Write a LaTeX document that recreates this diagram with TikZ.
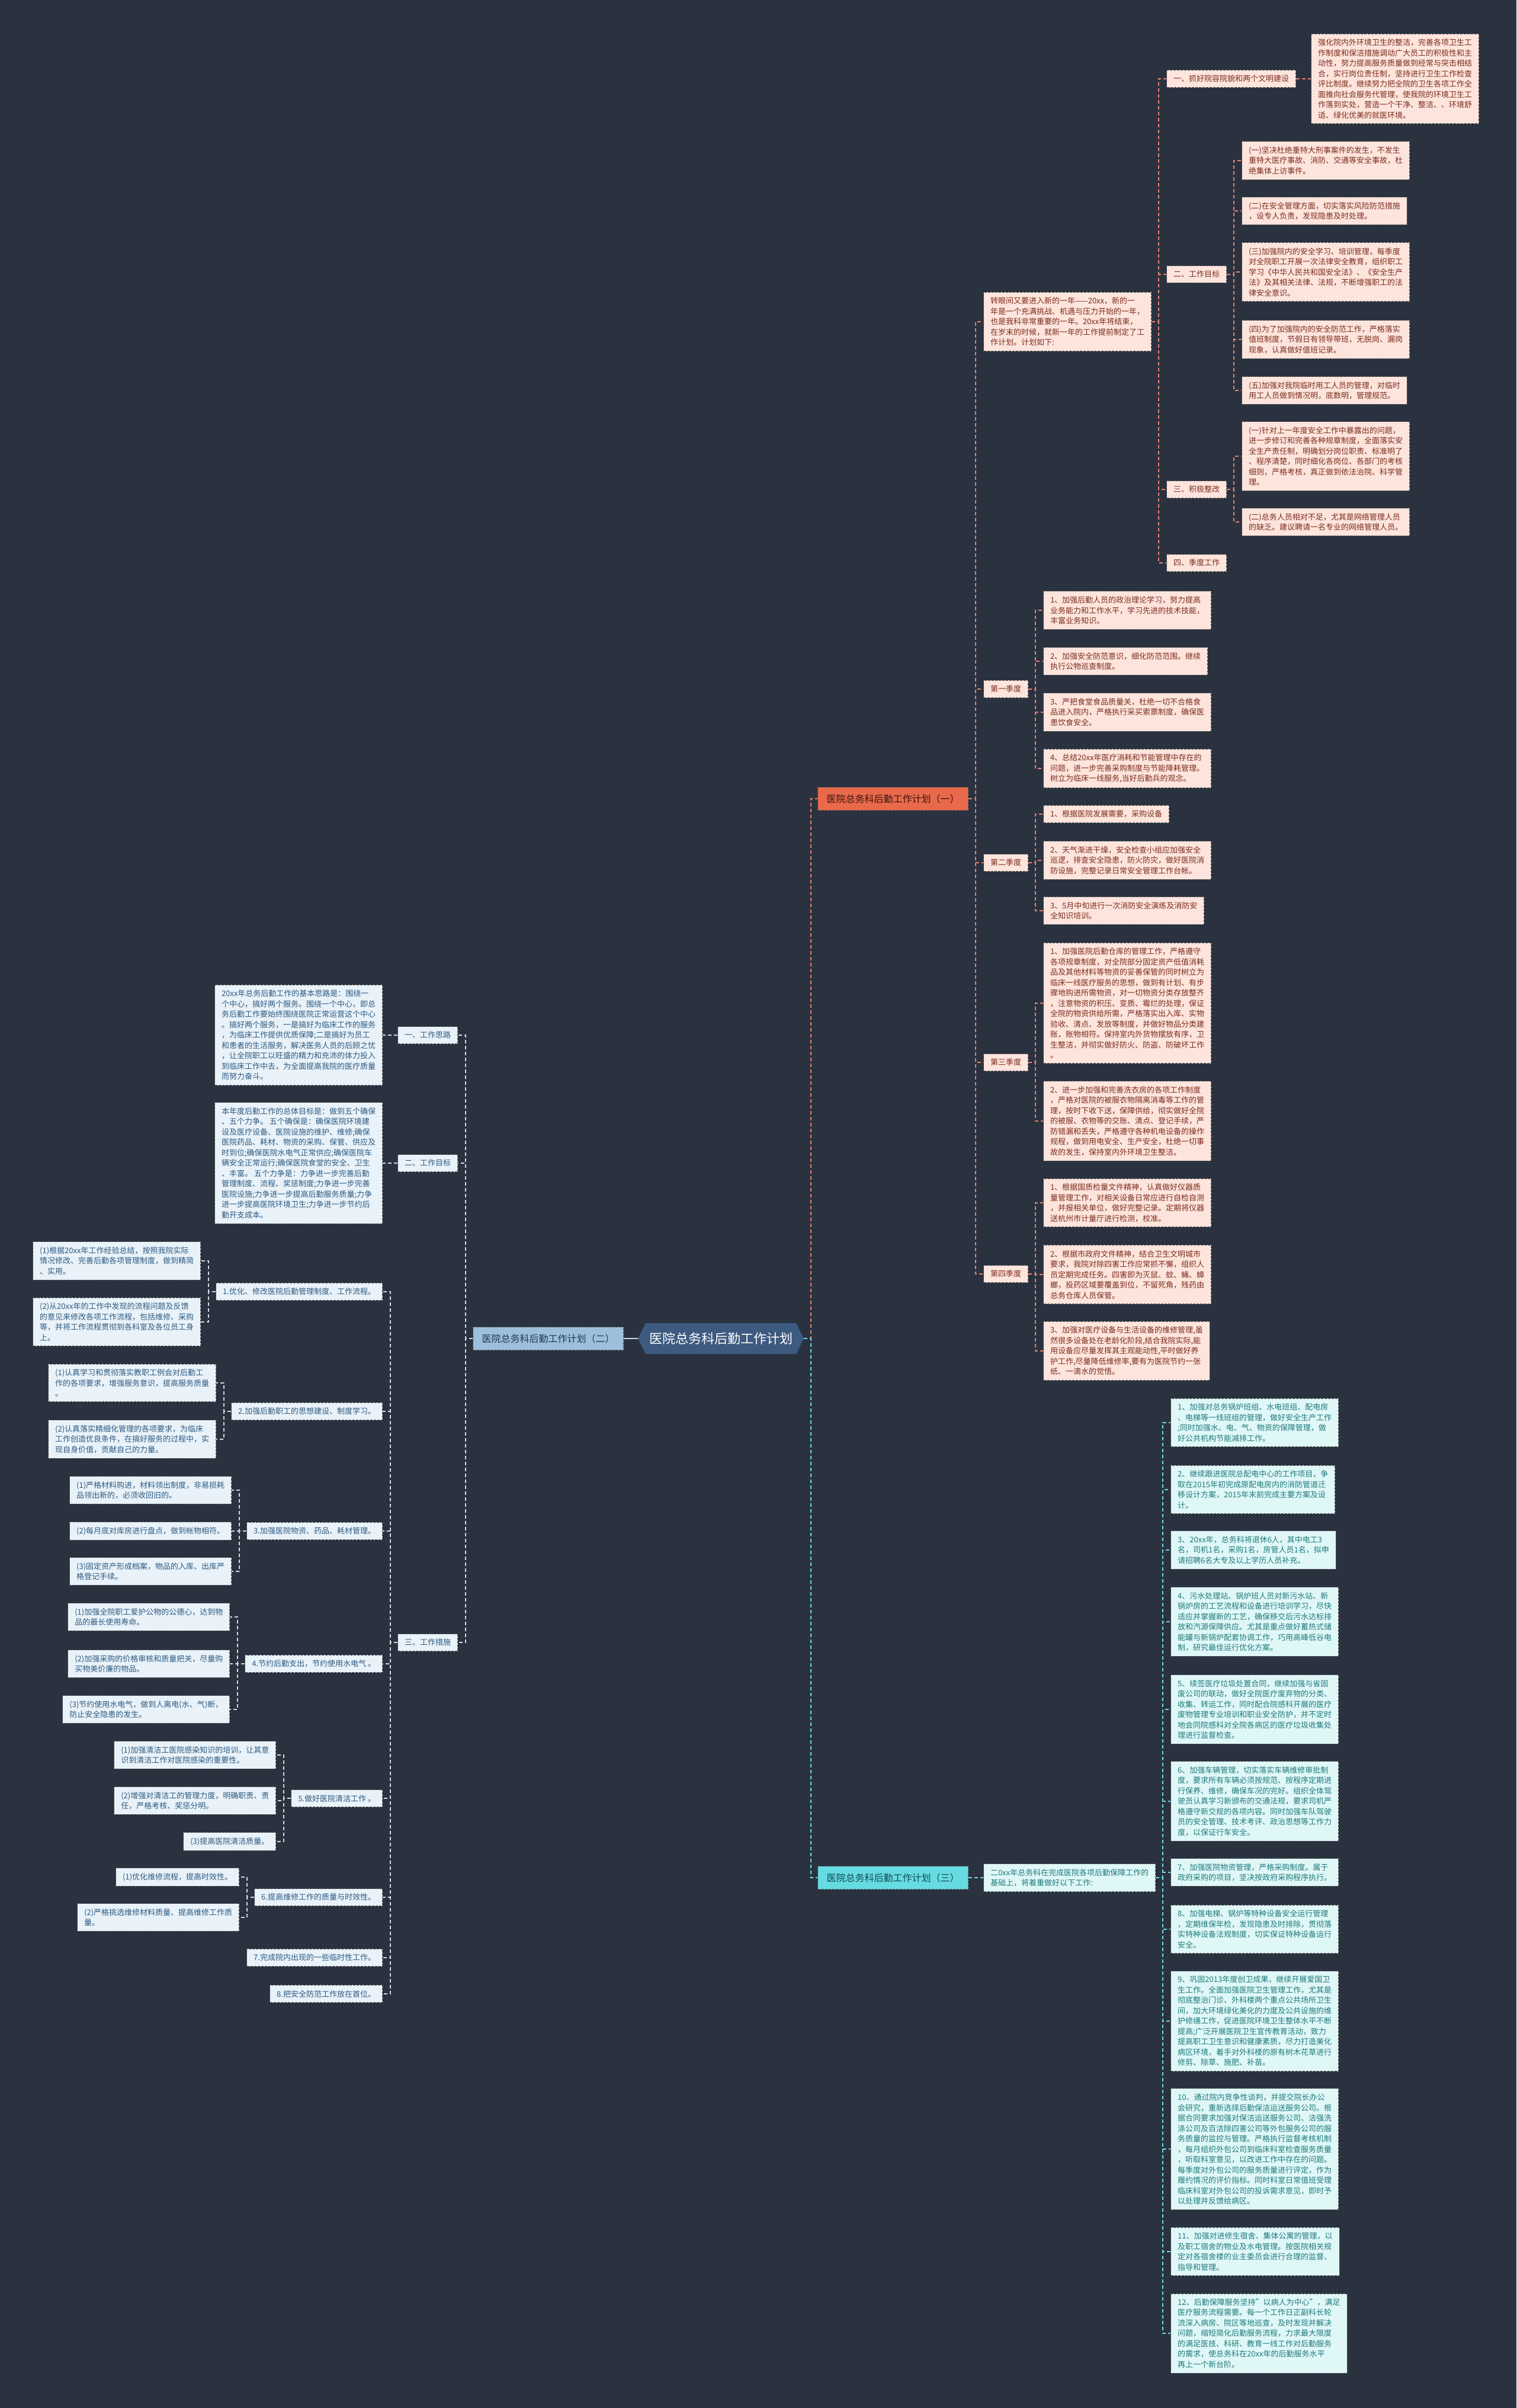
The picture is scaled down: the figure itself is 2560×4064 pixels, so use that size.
\documentclass[tikz,border=0pt]{standalone}
\usepackage{fontspec}
\setmainfont{Noto Sans CJK SC}
\definecolor{bgc}{HTML}{2A3240}
\definecolor{rootf}{HTML}{3D5A80}
\definecolor{bAf}{HTML}{E9694B}
\definecolor{bAt}{HTML}{3A140C}
\definecolor{dAf}{HTML}{FDE4DC}
\definecolor{dAt}{HTML}{7B2D1E}
\definecolor{cA}{HTML}{E8826A}
\definecolor{bBf}{HTML}{9DBFDC}
\definecolor{bBt}{HTML}{1F3550}
\definecolor{dBf}{HTML}{E9F2F9}
\definecolor{dBt}{HTML}{2D5A80}
\definecolor{cB}{HTML}{D0D8E2}
\definecolor{bCf}{HTML}{66DBE2}
\definecolor{bCt}{HTML}{0F4A50}
\definecolor{dCf}{HTML}{E0F7F8}
\definecolor{dCt}{HTML}{1F7A7A}
\definecolor{cC}{HTML}{70D8DE}
\definecolor{bordc}{HTML}{555555}
\newcommand\rkid[6]{\path (#4.east) ++(25,0) coordinate (tmpk);
  \node[#1,anchor=west] (#3) at (tmpk |- 0,#5) {#6};
  \draw[#2] (#4.east) -- ++(12,0) |- (#3.west);}
\newcommand\lkid[6]{\path (#4.west) ++(-25,0) coordinate (tmpk);
  \node[#1,anchor=east] (#3) at (tmpk |- 0,#5) {#6};
  \draw[#2] (#4.west) -- ++(-12,0) |- (#3.east);}
\begin{document}
\begin{tikzpicture}[x=1pt,y=-1pt,
  boxbase/.style={draw=bordc,dashed,dash pattern=on 4pt off 2pt,line width=1pt,align=left,inner xsep=11.5pt,inner ysep=8.5pt,font=\fontsize{13pt}{17.5pt}\selectfont},
  dA/.style={boxbase,fill=dAf,text=dAt},
  dB/.style={boxbase,fill=dBf,text=dBt},
  dC/.style={boxbase,fill=dCf,text=dCt},
  brbox/.style={draw=bordc,dashed,dash pattern=on 4pt off 2pt,line width=1pt,inner xsep=15pt,minimum height=39pt,font=\fontsize{16pt}{20pt}\selectfont},
  cAs/.style={draw=cA,line width=1.6pt,dash pattern=on 6pt off 4pt},
  cBs/.style={draw=cB,line width=1.6pt,dash pattern=on 6pt off 4pt},
  cCs/.style={draw=cC,line width=1.6pt,dash pattern=on 6pt off 4pt},
  rootst/.style={text=white,minimum width=280pt,minimum height=52pt,font=\fontsize{22pt}{26pt}\selectfont}]
\useasboundingbox (0,0) rectangle (2560,4064);
\fill[bgc] (0,0) rectangle (2560,4064);

% root
\fill[rootf] (1077,2259) -- (1090,2233) -- (1344,2233) -- (1357,2259) -- (1344,2285) -- (1090,2285) -- cycle;
\node[rootst] (root) at (1217,2259) {医院总务科后勤工作计划};

% main branches
\node[brbox,fill=bAf,text=bAt,anchor=west] (bA) at (1380,1348) {医院总务科后勤工作计划（一）};
\node[brbox,fill=bCf,text=bCt,anchor=west] (bC) at (1380,3169) {医院总务科后勤工作计划（三）};
\node[brbox,fill=bBf,text=bBt,anchor=east] (bB) at (1053,2259) {医院总务科后勤工作计划（二）};
\draw[cAs] (root.east) -- ++(12,0) |- (bA.west);
\draw[cCs] (root.east) -- ++(12,0) |- (bC.west);
\draw[cB,line width=1.6pt] (root.west) -- (bB.east);

% ===== branch 1 =====
\rkid{dA}{cAs}{introA}{bA}{543}{转眼间又要进入新的一年——20xx，新的一\\年是一个充满挑战、机遇与压力开始的一年，\\也是我科非常重要的一年。20xx年将结束，\\在岁末的时候，就新一年的工作提前制定了工\\作计划。计划如下:}
\rkid{dA}{cAs}{aOne}{introA}{133}{一、抓好院容院貌和两个文明建设}
\rkid{dA}{cAs}{aTwo}{introA}{463}{二、工作目标}
\rkid{dA}{cAs}{aThree}{introA}{826}{三、积极整改}
\rkid{dA}{cAs}{aFour}{introA}{950}{四、季度工作}
\rkid{dA}{cAs}{aOneT}{aOne}{133}{强化院内外环境卫生的整洁，完善各项卫生工\\作制度和保洁措施调动广大员工的积极性和主\\动性，努力提高服务质量做到经常与突击相结\\合，实行岗位责任制，坚持进行卫生工作检查\\评比制度。继续努力把全院的卫生各项工作全\\面推向社会服务代管理，使我院的环境卫生工\\作落到实处，营造一个干净、整洁、、环境舒\\适、绿化优美的就医环境。}
\rkid{dA}{cAs}{aTwoA}{aTwo}{271}{(一)坚决杜绝重特大刑事案件的发生，不发生\\重特大医疗事故、消防、交通等安全事故，杜\\绝集体上访事件。}
\rkid{dA}{cAs}{aTwoB}{aTwo}{356}{(二)在安全管理方面，切实落实风险防范措施\\，设专人负责，发现隐患及时处理。}
\rkid{dA}{cAs}{aTwoC}{aTwo}{459}{(三)加强院内的安全学习、培训管理，每季度\\对全院职工开展一次法律安全教育，组织职工\\学习《中华人民共和国安全法》、《安全生产\\法》及其相关法律、法规，不断增强职工的法\\律安全意识。}
\rkid{dA}{cAs}{aTwoD}{aTwo}{573}{(四)为了加强院内的安全防范工作，严格落实\\值班制度，节假日有领导带班，无脱岗、漏岗\\现象，认真做好值班记录。}
\rkid{dA}{cAs}{aTwoE}{aTwo}{659}{(五)加强对我院临时用工人员的管理，对临时\\用工人员做到情况明，底数明，管理规范。}
\rkid{dA}{cAs}{aThreeA}{aThree}{770}{(一)针对上一年度安全工作中暴露出的问题，\\进一步修订和完善各种规章制度，全面落实安\\全生产责任制，明确划分岗位职责、标准明了\\、程序清楚，同时细化各岗位、各部门的考核\\细则，严格考核，真正做到依法治院、科学管\\理。}
\rkid{dA}{cAs}{aThreeB}{aThree}{881}{(二)总务人员相对不足，尤其是网络管理人员\\的缺乏。建议聘请一名专业的网络管理人员。}

\rkid{dA}{cAs}{qOne}{bA}{1163}{第一季度}
\rkid{dA}{cAs}{qTwo}{bA}{1456}{第二季度}
\rkid{dA}{cAs}{qThree}{bA}{1793}{第三季度}
\rkid{dA}{cAs}{qFour}{bA}{2150}{第四季度}

\rkid{dA}{cAs}{qOneA}{qOne}{1030}{1、加强后勤人员的政治理论学习，努力提高\\业务能力和工作水平，学习先进的技术技能，\\丰富业务知识。}
\rkid{dA}{cAs}{qOneB}{qOne}{1116}{2、加强安全防范意识，细化防范范围。继续\\执行公物巡查制度。}
\rkid{dA}{cAs}{qOneC}{qOne}{1202}{3、严把食堂食品质量关，杜绝一切不合格食\\品进入院内，严格执行采买索票制度，确保医\\患饮食安全。}
\rkid{dA}{cAs}{qOneD}{qOne}{1297}{4、总结20xx年医疗消耗和节能管理中存在的\\问题，进一步完善采购制度与节能降耗管理。\\树立为临床一线服务,当好后勤兵的观念。}

\rkid{dA}{cAs}{qTwoA}{qTwo}{1374}{1、根据医院发展需要，采购设备}
\rkid{dA}{cAs}{qTwoB}{qTwo}{1452}{2、天气渐进干燥，安全检查小组应加强安全\\巡逻，排查安全隐患，防火防灾，做好医院消\\防设施，完整记录日常安全管理工作台帐。}
\rkid{dA}{cAs}{qTwoC}{qTwo}{1537}{3、5月中旬进行一次消防安全演练及消防安\\全知识培训。}

\rkid{dA}{cAs}{qThreeA}{qThree}{1693}{1、加强医院后勤仓库的管理工作，严格遵守\\各项规章制度，对全院部分固定资产低值消耗\\品及其他材料等物资的妥善保管的同时树立为\\临床一线医疗服务的思想，做到有计划、有步\\骤地购进所需物资，对一切物资分类存放整齐\\，注意物资的积压、变质、霉烂的处理，保证\\全院的物资供给所需，严格落实出入库、实物\\验收、清点、发放等制度，并做好物品分类建\\账，账物相符。保持室内外货物摆放有序，卫\\生整洁，并彻实做好防火、防盗、防破坏工作\\。}
\rkid{dA}{cAs}{qThreeB}{qThree}{1892}{2、进一步加强和完善洗衣房的各项工作制度\\，严格对医院的被服衣物隔离消毒等工作的管\\理，按时下收下送，保障供给，彻实做好全院\\的被服、衣物等的交账、清点、登记手续，严\\防错漏和丢失，严格遵守各种机电设备的操作\\规程，做到用电安全、生产安全，杜绝一切事\\故的发生，保持室内外环境卫生整洁。}

\rkid{dA}{cAs}{qFourA}{qFour}{2030}{1、根据国质检量文件精神，认真做好仪器质\\量管理工作，对相关设备日常应进行自检自测\\，并报相关单位，做好完整记录。定期将仪器\\送杭州市计量厅进行检测，校准。}
\rkid{dA}{cAs}{qFourB}{qFour}{2151}{2、根据市政府文件精神，结合卫生文明城市\\要求，我院对除四害工作应常抓不懈，组织人\\员定期完成任务。四害即为灭鼠、蚊、蝇、蟑\\螂，投药区域要覆盖到位，不留死角，残药由\\总务仓库人员保管。}
\rkid{dA}{cAs}{qFourC}{qFour}{2280}{3、加强对医疗设备与生活设备的维修管理,虽\\然很多设备处在老龄化阶段,结合我院实际,能\\用设备应尽量发挥其主观能动性,平时做好养\\护工作,尽量降低维修率,要有为医院节约一张\\纸、一滴水的觉悟。}

% ===== branch 3 =====
\rkid{dC}{cCs}{introC}{bC}{3169}{二0xx年总务科在完成医院各项后勤保障工作的\\基础上，将着重做好以下工作:}
\rkid{dC}{cCs}{cOne}{introC}{2401}{1、加强对总务锅炉班组、水电班组、配电房\\、电梯等一线班组的管理，做好安全生产工作\\;同时加强水、电、气、物资的保障管理，做\\好公共机构节能减排工作。}
\rkid{dC}{cCs}{cTwo}{introC}{2514}{2、继续跟进医院总配电中心的工作项目，争\\取在2015年初完成原配电房内的消防管道迁\\移设计方案，2015年末前完成主要方案及设\\计。}
\rkid{dC}{cCs}{cThree}{introC}{2616}{3、20xx年，总务科将退休6人，其中电工3\\名，司机1名，采购1名，房管人员1名，拟申\\请招聘6名大专及以上学历人员补充。}
\rkid{dC}{cCs}{cFour}{introC}{2737}{4、污水处理站、锅炉班人员对新污水站、新\\锅炉房的工艺流程和设备进行培训学习，尽快\\适应并掌握新的工艺，确保移交后污水达标排\\放和汽源保障供应。尤其是重点做好蓄热式储\\能罐与新锅炉配套协调工作，巧用高峰低谷电\\制，研究最佳运行优化方案。}
\rkid{dC}{cCs}{cFive}{introC}{2885}{5、续签医疗垃圾处置合同，继续加强与省固\\废公司的联动，做好全院医疗废弃物的分类、\\收集、转运工作，同时配合院感科开展的医疗\\废物管理专业培训和职业安全防护，并不定时\\地会同院感科对全院各病区的医疗垃圾收集处\\理进行监督检查。}
\rkid{dC}{cCs}{cSix}{introC}{3040}{6、加强车辆管理，切实落实车辆维修审批制\\度，要求所有车辆必须按规范、按程序定期进\\行保养、维修，确保车况的完好。组织全体驾\\驶员认真学习新颁布的交通法规，要求司机严\\格遵守新交规的各项内容。同时加强车队驾驶\\员的安全管理、技术考评、政治思想等工作力\\度，以保证行车安全。}
\rkid{dC}{cCs}{cSeven}{introC}{3160}{7、加强医院物资管理，严格采购制度。属于\\政府采购的项目，坚决按政府采购程序执行。}
\rkid{dC}{cCs}{cEight}{introC}{3256}{8、加强电梯、锅炉等特种设备安全运行管理\\，定期维保年检，发现隐患及时排除，贯彻落\\实特种设备法规制度，切实保证特种设备运行\\安全。}
\rkid{dC}{cCs}{cNine}{introC}{3411}{9、巩固2013年度创卫成果，继续开展爱国卫\\生工作。全面加强医院卫生管理工作，尤其是\\彻底整治门诊、外科楼两个重点公共场所卫生\\间，加大环境绿化美化的力度及公共设施的维\\护修缮工作，促进医院环境卫生整体水平不断\\提高;广泛开展医院卫生宣传教育活动，致力\\提高职工卫生意识和健康素质，尽力打造美化\\病区环境，着手对外科楼的原有树木花草进行\\修剪、除草、施肥、补苗。}
\rkid{dC}{cCs}{cTen}{introC}{3627}{10、通过院内竞争性谈判，并提交院长办公\\会研究，重新选择后勤保洁运送服务公司。根\\据合同要求加强对保洁运送服务公司、洁强洗\\涤公司及百洁除四害公司等外包服务公司的服\\务质量的监控与管理。严格执行监督考核机制\\，每月组织外包公司到临床科室检查服务质量\\，听取科室意见，以改进工作中存在的问题。\\每季度对外包公司的服务质量进行评定，作为\\履约情况的评价指标。同时科室日常值班受理\\临床科室对外包公司的投诉需求意见，即时予\\以处理并反馈给病区。}
\rkid{dC}{cCs}{cEleven}{introC}{3800}{11、加强对进修生宿舍、集体公寓的管理，以\\及职工宿舍的物业及水电管理。按医院相关规\\定对各宿舍楼的业主委员会进行合理的监督、\\指导和管理。}
\rkid{dC}{cCs}{cTwelve}{introC}{3938}{12、后勤保障服务坚持"以病人为中心"，满足\\医疗服务流程需要。每一个工作日正副科长轮\\流深入病房、院区等地巡查，及时发现并解决\\问题，缩短简化后勤服务流程，力求最大限度\\的满足医技、科研、教育一线工作对后勤服务\\的需求，使总务科在20xx年的后勤服务水平\\再上一个新台阶。}

% ===== branch 2 =====
\lkid{dB}{cBs}{tOne}{bB}{1747}{一、工作思路}
\lkid{dB}{cBs}{tTwo}{bB}{1963}{二、工作目标}
\lkid{dB}{cBs}{tThree}{bB}{2772}{三、工作措施}
\lkid{dB}{cBs}{tOneT}{tOne}{1747}{20xx年总务后勤工作的基本思路是：围绕一\\个中心，搞好两个服务。围绕一个中心，即总\\务后勤工作要始终围绕医院正常运营这个中心\\。搞好两个服务，一是搞好为临床工作的服务\\，为临床工作提供优质保障;二是搞好为员工\\和患者的生活服务，解决医务人员的后顾之忧\\，让全院职工以旺盛的精力和充沛的体力投入\\到临床工作中去，为全面提高我院的医疗质量\\而努力奋斗。}
\lkid{dB}{cBs}{tTwoT}{tTwo}{1963}{本年度后勤工作的总体目标是：做到五个确保\\、五个力争。 五个确保是：确保医院环境建\\设及医疗设备、医院设施的维护、维修;确保\\医院药品、耗材、物资的采购、保管、供应及\\时到位;确保医院水电气正常供应;确保医院车\\辆安全正常运行;确保医院食堂的安全、卫生\\、丰富。 五个力争是：力争进一步完善后勤\\管理制度、流程、奖惩制度;力争进一步完善\\医院设施;力争进一步提高后勤服务质量;力争\\进一步提高医院环境卫生;力争进一步节约后\\勤开支成本。}

\lkid{dB}{cBs}{mOne}{tThree}{2180}{1.优化、修改医院后勤管理制度、工作流程。}
\lkid{dB}{cBs}{mTwo}{tThree}{2382}{2.加强后勤职工的思想建设、制度学习。}
\lkid{dB}{cBs}{mThree}{tThree}{2584}{3.加强医院物资、药品、耗材管理。}
\lkid{dB}{cBs}{mFour}{tThree}{2808}{4.节约后勤支出，节约使用水电气 。}
\lkid{dB}{cBs}{mFive}{tThree}{3035}{5.做好医院清洁工作 。}
\lkid{dB}{cBs}{mSix}{tThree}{3202}{6.提高维修工作的质量与时效性。}
\lkid{dB}{cBs}{mSeven}{tThree}{3304}{7.完成院内出现的一些临时性工作。}
\lkid{dB}{cBs}{mEight}{tThree}{3365}{8.把安全防范工作放在首位。}

\lkid{dB}{cBs}{mOneA}{mOne}{2128}{(1)根据20xx年工作经验总结，按照我院实际\\情况修改、完善后勤各项管理制度，做到精简\\、实用。}
\lkid{dB}{cBs}{mOneB}{mOne}{2231}{(2)从20xx年的工作中发现的流程问题及反馈\\的意见来修改各项工作流程，包括维修、采购\\等，并将工作流程贯彻到各科室及各位员工身\\上。}
\lkid{dB}{cBs}{mTwoA}{mTwo}{2334}{(1)认真学习和贯彻落实教职工例会对后勤工\\作的各项要求，增强服务意识，提高服务质量\\。}
\lkid{dB}{cBs}{mTwoB}{mTwo}{2429}{(2)认真落实精细化管理的各项要求，为临床\\工作创造优良条件，在搞好服务的过程中，实\\现自身价值，贡献自己的力量。}
\lkid{dB}{cBs}{mThreeA}{mThree}{2515}{(1)严格材料购进，材料领出制度，非易损耗\\品领出新的，必须收回旧的。}
\lkid{dB}{cBs}{mThreeB}{mThree}{2584}{(2)每月底对库房进行盘点，做到帐物相符。}
\lkid{dB}{cBs}{mThreeC}{mThree}{2652}{(3)固定资产形成档案，物品的入库、出库严\\格登记手续。}
\lkid{dB}{cBs}{mFourA}{mFour}{2729}{(1)加强全院职工爱护公物的公德心，达到物\\品的最长使用寿命。}
\lkid{dB}{cBs}{mFourB}{mFour}{2808}{(2)加强采购的价格审核和质量把关，尽量购\\买物美价廉的物品。}
\lkid{dB}{cBs}{mFourC}{mFour}{2885}{(3)节约使用水电气，做到人离电(水、气)断，\\防止安全隐患的发生。}
\lkid{dB}{cBs}{mFiveA}{mFive}{2962}{(1)加强清洁工医院感染知识的培训，让其意\\识到清洁工作对医院感染的重要性。}
\lkid{dB}{cBs}{mFiveB}{mFive}{3039}{(2)增强对清洁工的管理力度，明确职责、责\\任，严格考核、奖惩分明。}
\lkid{dB}{cBs}{mFiveC}{mFive}{3108}{(3)提高医院清洁质量。}
\lkid{dB}{cBs}{mSixA}{mSix}{3168}{(1)优化维修流程，提高时效性。}
\lkid{dB}{cBs}{mSixB}{mSix}{3236}{(2)严格挑选维修材料质量、提高维修工作质\\量。}
\end{tikzpicture}
\end{document}
